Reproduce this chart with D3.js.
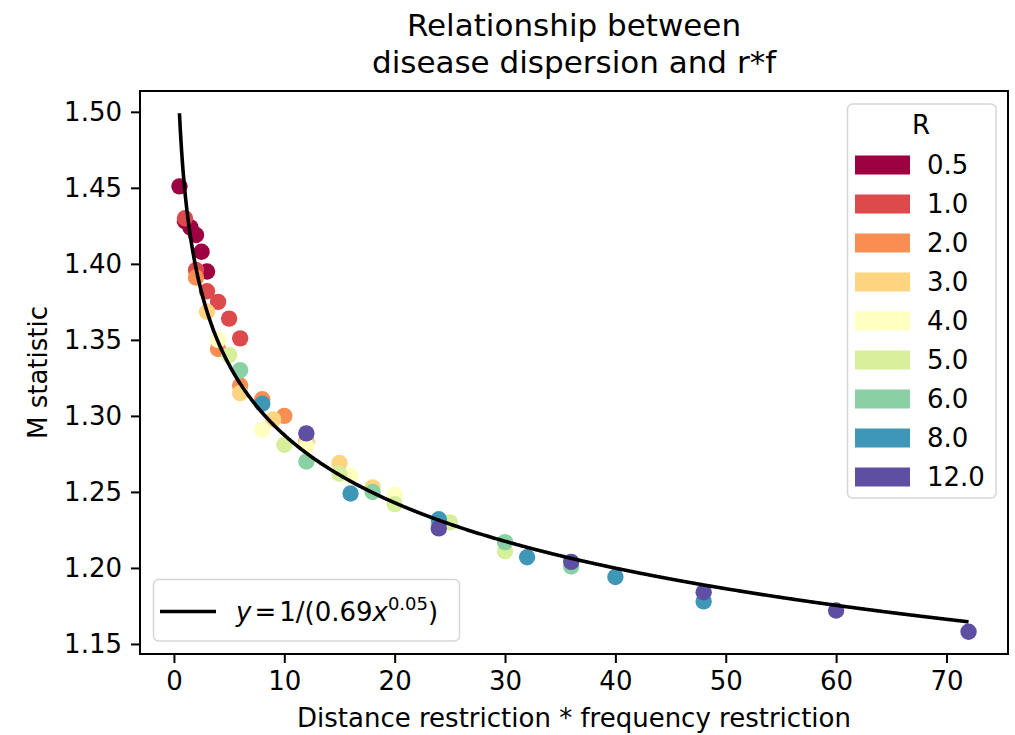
<!DOCTYPE html>
<html>
<head>
<meta charset="utf-8">
<script src="https://cdn.jsdelivr.net/npm/d3@7"></script>
<style>
  html, body { margin: 0; padding: 0; background: #fff; }
  svg { display: block; font-family: "DejaVu Sans", sans-serif; }
</style>
</head>
<body>
<svg id="chart" width="1015" height="735"></svg>
<script>
// R levels (one colour per level)
const rLevels = [0.5, 1.0, 2.0, 3.0, 4.0, 5.0, 6.0, 8.0, 12.0];

// distance restriction * frequency restriction, one row per R level
const rfProduct = [
  [0.5, 1, 1.5, 2, 2.5, 3],
  [1, 2, 3, 4, 5, 6],
  [2, 4, 6, 8, 10, 12],
  [3, 6, 9, 12, 15, 18],
  [4, 8, 12, 16, 20, 24],
  [5, 10, 15, 20, 25, 30],
  [6, 12, 18, 24, 30, 36],
  [8, 16, 24, 32, 40, 48],
  [12, 24, 36, 48, 60, 72]
];

// M statistic, same layout as rfProduct
const mStatistic = [
  [1.451, 1.428, 1.424, 1.419, 1.408, 1.395],
  [1.430, 1.396, 1.382, 1.375, 1.364, 1.351],
  [1.391, 1.344, 1.320, 1.311, 1.300, 1.283],
  [1.3685, 1.315, 1.2976, 1.282, 1.269, 1.253],
  [1.350, 1.291, 1.280, 1.2605, 1.248, 1.229],
  [1.340, 1.281, 1.262, 1.242, 1.230, 1.211],
  [1.330, 1.270, 1.250, 1.229, 1.217, 1.201],
  [1.308, 1.249, 1.232, 1.207, 1.194, 1.178],
  [1.2885, 1.226, 1.204, 1.184, 1.172, 1.158]
];

// fitted curve y = 1 / (A * x^B); the legend shows A and B to two decimals
const fitA = 0.691;
const fitB = 0.0508;

const xTicks = [0, 10, 20, 30, 40, 50, 60, 70];
const yTicks = [1.15, 1.20, 1.25, 1.30, 1.35, 1.40, 1.45, 1.50];

const svg = d3.select("#chart");
const plot = { left: 140, right: 1008, top: 91, bottom: 654 };
const FONT = 26;

// x limits: data extent with 5% margins
const allX = rfProduct.flat();
const xMin = d3.min(allX), xMax = d3.max(allX);
const xPad = (xMax - xMin) * 0.05;
const x = d3.scaleLinear().domain([xMin - xPad, xMax + xPad]).range([plot.left, plot.right]);
const y = d3.scaleLinear().domain([1.1434, 1.5137]).range([plot.bottom, plot.top]);

// Spectral colormap, linearly interpolated between the 11 ColorBrewer stops
const spectral = d3.scaleLinear()
  .domain(d3.range(11).map(i => i / 10))
  .range(d3.schemeSpectral[11]);
const colorOf = i => spectral(i / (rLevels.length - 1));

// scatter points, one layer per R level
const pts = svg.append("g");
rLevels.forEach((r, i) => {
  const rows = rfProduct[i].map((v, j) => ({ x: v, m: mStatistic[i][j] }));
  pts.append("g").selectAll("circle").data(rows).join("circle")
    .attr("cx", d => x(d.x))
    .attr("cy", d => y(d.m))
    .attr("r", 8.2)
    .attr("fill", colorOf(i));
});

// fitted power curve over the data range
const curveX = d3.range(0, 1001).map(k => xMin + (xMax - xMin) * k / 1000);
const line = d3.line().x(d => x(d)).y(d => y(1 / (fitA * Math.pow(d, fitB))));
svg.append("path")
  .datum(curveX)
  .attr("d", line)
  .attr("fill", "none")
  .attr("stroke", "#000")
  .attr("stroke-width", 3.6)
  .attr("stroke-linejoin", "round");

// axes
const xAxis = d3.axisBottom(x).tickValues(xTicks).tickFormat(d3.format("d"))
  .tickSize(9).tickSizeOuter(0).tickPadding(9);
const yAxis = d3.axisLeft(y).tickValues(yTicks).tickFormat(d3.format(".2f"))
  .tickSize(9).tickSizeOuter(0).tickPadding(9);

const gx = svg.append("g").attr("transform", `translate(0,${plot.bottom})`).call(xAxis);
const gy = svg.append("g").attr("transform", `translate(${plot.left},0)`).call(yAxis);
[gx, gy].forEach(g => {
  g.select(".domain").remove();
  g.selectAll(".tick line").attr("stroke", "#000").attr("stroke-width", 2);
  g.selectAll(".tick text").attr("fill", "#000")
    .style("font-size", FONT + "px").style("font-family", "DejaVu Sans");
});

// frame
svg.append("rect")
  .attr("x", plot.left).attr("y", plot.top)
  .attr("width", plot.right - plot.left).attr("height", plot.bottom - plot.top)
  .attr("fill", "none").attr("stroke", "#000").attr("stroke-width", 2);

// title
const midX = (plot.left + plot.right) / 2;
svg.append("text").attr("x", midX).attr("y", 36).attr("text-anchor", "middle")
  .style("font-size", "31px").text("Relationship between");
svg.append("text").attr("x", midX).attr("y", 73).attr("text-anchor", "middle")
  .style("font-size", "31px").text("disease dispersion and r*f");

// axis labels
svg.append("text").attr("x", midX).attr("y", 727).attr("text-anchor", "middle")
  .style("font-size", FONT + "px").text("Distance restriction * frequency restriction");
svg.append("text")
  .attr("transform", `translate(47,${(plot.top + plot.bottom) / 2}) rotate(-90)`)
  .attr("text-anchor", "middle")
  .style("font-size", FONT + "px").text("M statistic");

// R legend (upper right)
const leg = svg.append("g");
leg.append("rect")
  .attr("x", 847.5).attr("y", 104).attr("width", 148.5).attr("height", 394)
  .attr("rx", 5).attr("fill", "#fff").attr("fill-opacity", 0.8)
  .attr("stroke", "#d6d6d6").attr("stroke-width", 1.5);
leg.append("text").attr("x", 921).attr("y", 125).attr("text-anchor", "middle")
  .attr("dominant-baseline", "central").style("font-size", FONT + "px").text("R");
rLevels.forEach((r, i) => {
  const cy = 165 + i * 39;
  leg.append("rect").attr("x", 855).attr("y", cy - 9.5).attr("width", 55).attr("height", 19)
    .attr("fill", colorOf(i));
  leg.append("text").attr("x", 927).attr("y", cy).attr("dominant-baseline", "central")
    .style("font-size", FONT + "px").text(d3.format(".1f")(r));
});

// fit legend (lower left)
const fl = svg.append("g");
fl.append("rect")
  .attr("x", 153.5).attr("y", 579.5).attr("width", 306).attr("height", 61.5)
  .attr("rx", 5).attr("fill", "#fff").attr("fill-opacity", 0.8)
  .attr("stroke", "#d6d6d6").attr("stroke-width", 1.5);
fl.append("line").attr("x1", 160).attr("x2", 216).attr("y1", 611.5).attr("y2", 611.5)
  .attr("stroke", "#000").attr("stroke-width", 3.6);
const eq = fl.append("text").attr("x", 236).attr("y", 621).style("font-size", FONT + "px");
eq.append("tspan").style("font-style", "italic").text("y");
eq.append("tspan").attr("dx", 3).text("=");
eq.append("tspan").attr("dx", 3).text("1/(" + d3.format(".2f")(fitA));
eq.append("tspan").style("font-style", "italic").text("x");
eq.append("tspan").attr("dy", -11).style("font-size", "18px").text(d3.format(".2f")(fitB));
eq.append("tspan").attr("dy", 11).text(")");
</script>
</body>
</html>
